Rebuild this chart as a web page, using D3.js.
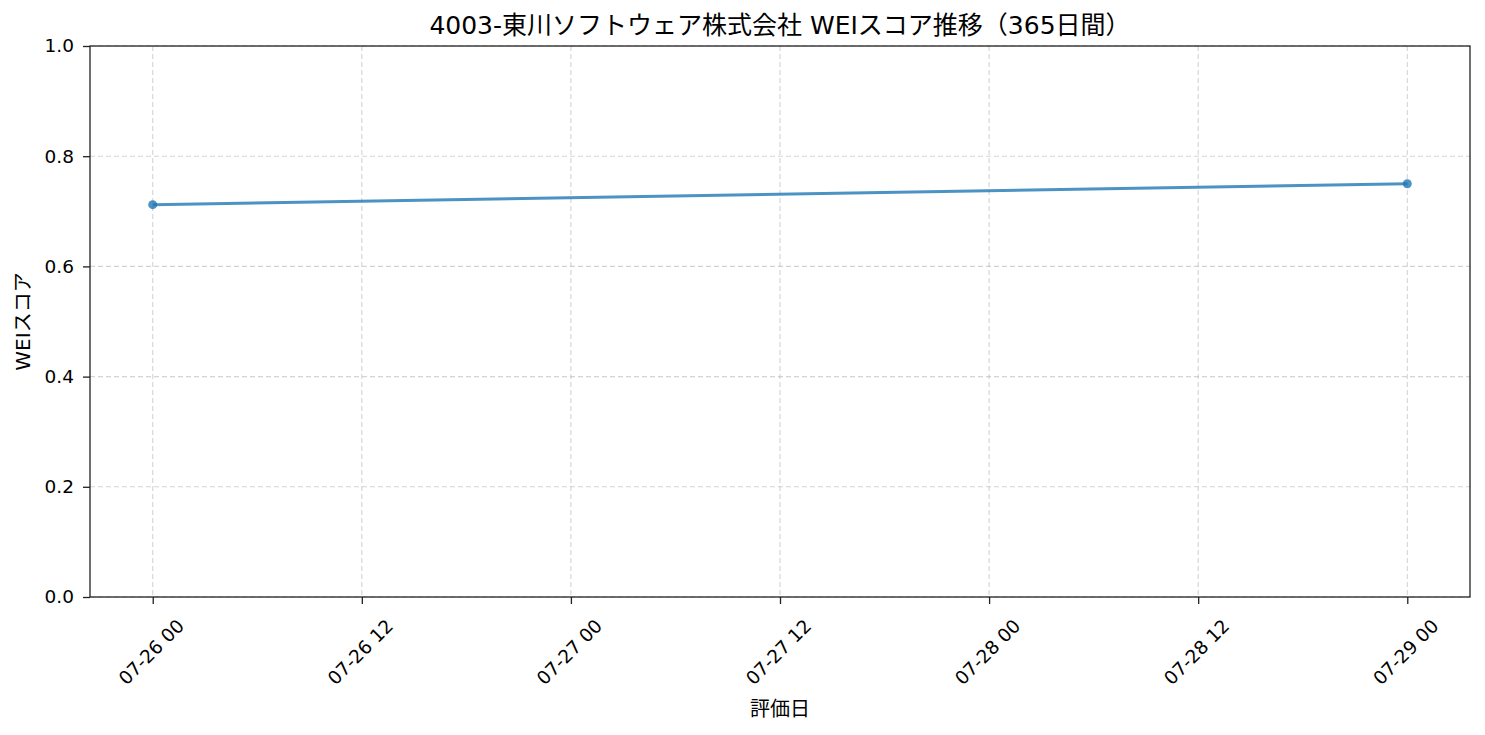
<!DOCTYPE html>
<html>
<head>
<meta charset="utf-8">
<script src="https://cdn.jsdelivr.net/npm/d3@7"></script>
<style>
  body { margin: 0; background: #fff; }
  svg text { font-family: "DejaVu Sans", "Noto Sans CJK JP", sans-serif; }
  .grid line { stroke: #b0b0b0; stroke-opacity: 0.55; stroke-dasharray: 5,3; stroke-width: 1.1; }
</style>
</head>
<body>
<svg id="chart" width="1485" height="735"></svg>
<script>
// data
var dates = ["2024-07-26T00:00:00", "2024-07-29T00:00:00"];
var scores = [0.712, 0.750];
var yTicks = [0.0, 0.2, 0.4, 0.6, 0.8, 1.0];
var titleText = "4003-東川ソフトウェア株式会社 WEIスコア推移（365日間）";

var svg = d3.select("#chart");
var margin = {left: 90, top: 46, right: 15, bottom: 138};
var W = 1485, H = 735;
var pw = W - margin.left - margin.right, ph = H - margin.top - margin.bottom;

var pts = dates.map(function(d, i){ return {t: d3.isoParse(d), v: scores[i]}; });

var t0 = pts[0].t, t1 = pts[pts.length - 1].t;
var pad = (t1 - t0) * 0.05;
var x = d3.scaleTime()
  .domain([new Date(+t0 - pad), new Date(+t1 + pad)])
  .range([0, pw]);
var y = d3.scaleLinear().domain([0, 1]).range([ph, 0]);

var xTicks = d3.timeHour.every(12).range(t0, new Date(+t1 + 1));

var g = svg.append("g").attr("transform", "translate(" + margin.left + "," + margin.top + ")");

// grid
g.append("g").attr("class", "grid")
  .selectAll("line").data(xTicks).enter().append("line")
  .attr("x1", function(d){ return x(d); }).attr("x2", function(d){ return x(d); })
  .attr("y1", 0).attr("y2", ph);
g.append("g").attr("class", "grid")
  .selectAll("line").data(yTicks).enter().append("line")
  .attr("x1", 0).attr("x2", pw)
  .attr("y1", function(d){ return y(d); }).attr("y2", function(d){ return y(d); });

// line + markers
var line = d3.line().x(function(d){ return x(d.t); }).y(function(d){ return y(d.v); });
g.append("path").datum(pts)
  .attr("d", line)
  .attr("fill", "none")
  .attr("stroke", "#1f77b4").attr("stroke-opacity", 0.8)
  .attr("stroke-width", 3);
g.selectAll("circle").data(pts).enter().append("circle")
  .attr("cx", function(d){ return x(d.t); })
  .attr("cy", function(d){ return y(d.v); })
  .attr("r", 4.5)
  .attr("fill", "#1f77b4").attr("fill-opacity", 0.8);

// axes
var xAxis = d3.axisBottom(x).tickValues(xTicks).tickSize(7)
  .tickFormat(d3.timeFormat("%m-%d %H"));
var gx = g.append("g").attr("transform", "translate(0," + ph + ")").call(xAxis);
gx.attr("font-family", null);
gx.select(".domain").remove();
gx.selectAll("text")
  .attr("font-size", 18.5).attr("fill", "#000")
  .attr("text-anchor", "middle")
  .attr("x", 0).attr("y", 0).attr("dy", "0.35em")
  .attr("transform", "translate(-2,55) rotate(-45)");
gx.selectAll("line").attr("stroke", "#222").attr("stroke-width", 1.3);

var yAxis = d3.axisLeft(y).tickValues(yTicks).tickSize(7).tickPadding(9)
  .tickFormat(d3.format(".1f"));
var gy = g.append("g").call(yAxis);
gy.attr("font-family", null);
gy.select(".domain").remove();
gy.selectAll("text").attr("font-size", 18.5).attr("fill", "#000");
gy.selectAll("line").attr("stroke", "#222").attr("stroke-width", 1.3);

// frame
g.append("rect").attr("width", pw).attr("height", ph)
  .attr("fill", "none").attr("stroke", "#222").attr("stroke-width", 1.3);

// labels
svg.append("text")
  .attr("x", margin.left + pw / 2).attr("y", 34)
  .attr("text-anchor", "middle").attr("font-size", 25).text(titleText);
svg.append("text")
  .attr("x", margin.left + pw / 2).attr("y", 716)
  .attr("text-anchor", "middle").attr("font-size", 20).text("評価日");
svg.append("text")
  .attr("transform", "translate(30," + (margin.top + ph / 2) + ") rotate(-90)")
  .attr("text-anchor", "middle").attr("font-size", 20).text("WEIスコア");
</script>
</body>
</html>
